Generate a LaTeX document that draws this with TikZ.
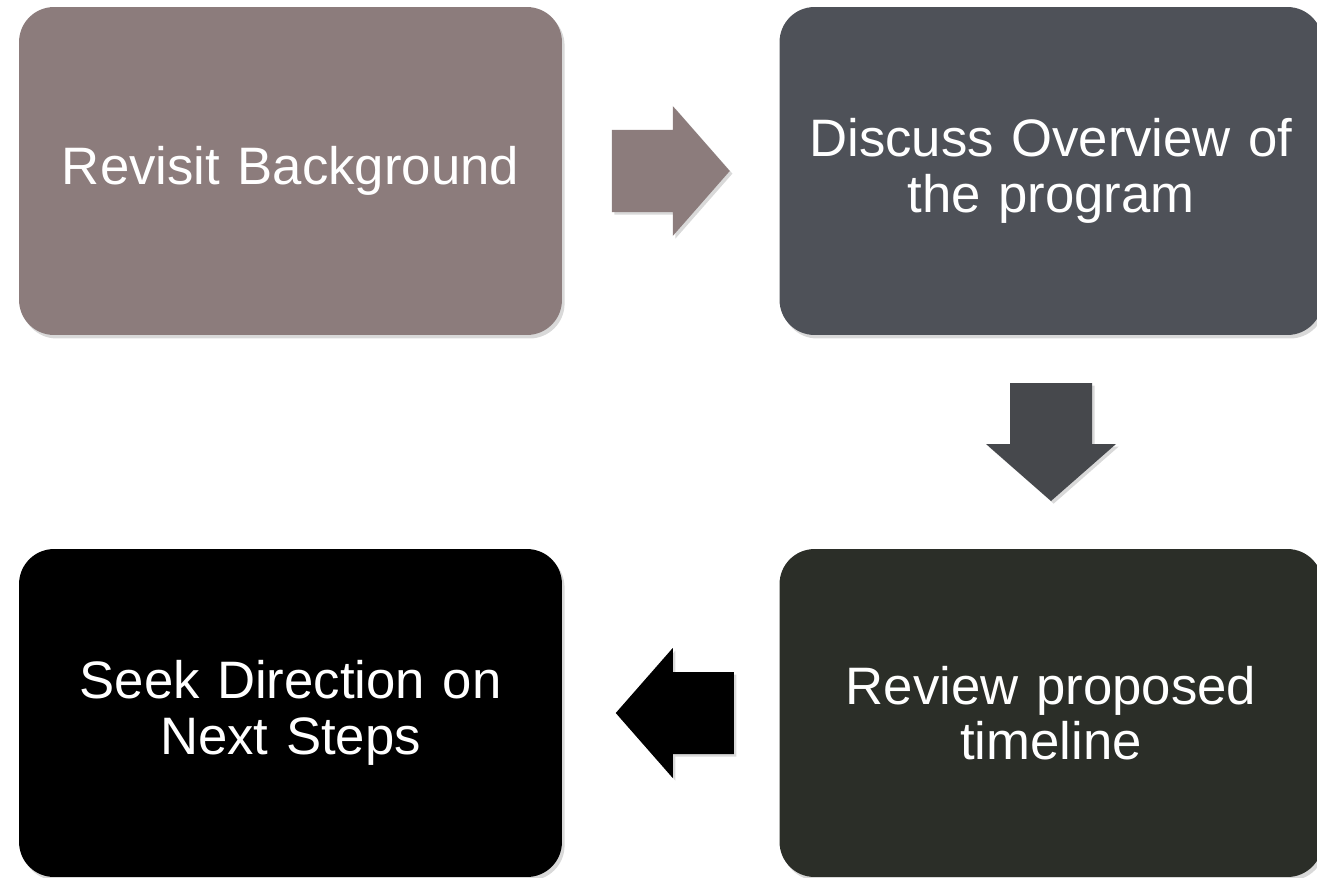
\documentclass[tikz,border=0pt]{standalone}
\usepackage{fontspec}
\setmainfont{Liberation Sans}
\usepackage{tikz}
\usetikzlibrary{calc,shadows}
\definecolor{ColorMauve}{RGB}{140,124,124}
\definecolor{ColorSlate}{RGB}{78,81,88}
\definecolor{ColorDark}{RGB}{43,46,40}
\definecolor{ColorArrowTwo}{RGB}{70,72,76}
\tikzset{
  card/.style={rounded corners=0.7cm, minimum width=10.86cm, minimum height=6.56cm,
    text width=10.2cm, align=center, text=white, inner sep=0pt,
    font=\fontsize{30}{31.5}\selectfont,
    drop shadow={shadow xshift=1.5pt, shadow yshift=-2pt, opacity=0.3, fill=gray}},
  pics/blockarrow/.style={code={
    \fill[drop shadow={shadow xshift=1.5pt, shadow yshift=-1.5pt, opacity=0.3, fill=gray}]
      (-59,-41) -- (2,-41) -- (2,-65) -- (59,0) -- (2,65) -- (2,41) -- (-59,41) -- cycle;}}
}
\begin{document}
\begin{tikzpicture}[x=0.02cm, y=0.02cm]
        \useasboundingbox (0,0) rectangle (1317,877);
        %Khung
        \node[card, fill=ColorMauve] (revisit) at (290.5,706) {Revisit Background};
        \node[card, fill=ColorSlate] (discuss) at (1051,706) {Discuss Overview of\\the program};
        \node[card, fill=ColorDark] (review) at (1051,164) {Review proposed\\timeline};
        \node[card, fill=black] (seek) at (290.5,164) {Seek Direction on\\Next Steps};
        %Mui ten
        \pic[ColorMauve] at ($(revisit.east)!0.5!(discuss.west)$) {blockarrow};
        \pic[ColorArrowTwo, rotate=-90] at ($(discuss.south)!0.5!(review.north)$) {blockarrow};
        \pic[black, rotate=180] at ($(review.west)!0.5!(seek.east)+(4,0)$) {blockarrow};
    \end{tikzpicture}
\end{document}
